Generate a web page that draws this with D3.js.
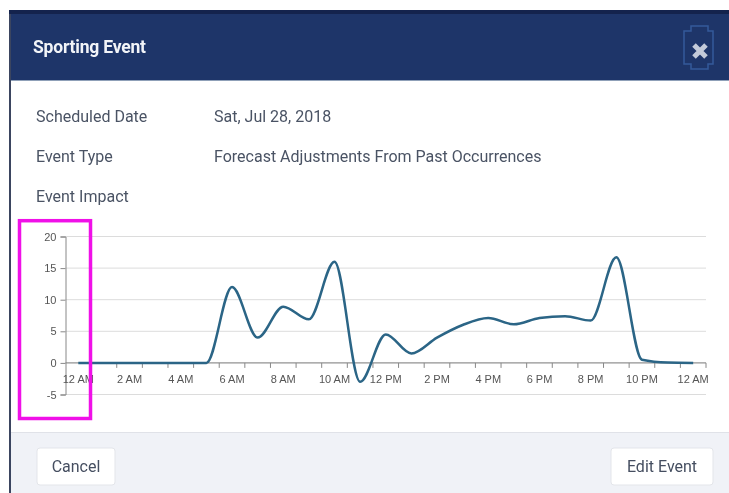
<!DOCTYPE html>
<html>
<head>
<meta charset="utf-8">
<script src="https://cdn.jsdelivr.net/npm/d3@7"></script>
<style>
  html, body { margin: 0; padding: 0; background: #fff; }
  #page { width: 729px; height: 493px; overflow: hidden; filter: blur(0.4px); }
</style>
</head>
<body>
<div id="page"></div>
<script>
//size
const width = 729, height = 493;
const margin = { top: 236.5, right: 23, bottom: 98.5, left: 65.5 };

//data
const hours = ["12 AM", "1 AM", "2 AM", "3 AM", "4 AM", "5 AM", "6 AM", "7 AM", "8 AM", "9 AM", "10 AM", "11 AM",
  "12 PM", "1 PM", "2 PM", "3 PM", "4 PM", "5 PM", "6 PM", "7 PM", "8 PM", "9 PM", "10 PM", "11 PM", "12 AM "];
const impact = [0, 0, 0, 0, 0, 0, 12, 4, 8.9, 6.9, 16, -3, 4.5, 1.5, 4, 6, 7.1, 6.1, 7.1, 7.4, 6.7, 16.7, 0.5, 0.05, 0];
const yTicks = [-5, 0, 5, 10, 15, 20];
const infoLabels = ["Scheduled Date", "Event Type", "Event Impact"];
const infoValues = ["Sat, Jul 28, 2018", "Forecast Adjustments From Past Occurrences", ""];

const uiFont = "Roboto, sans-serif";
const chartFont = "'Liberation Sans', Arial, sans-serif";

const svg = d3.select("#page").append("svg")
  .attr("width", width)
  .attr("height", height)
  .style("display", "block");

//modal shell
svg.append("rect").attr("x", 9).attr("y", 10).attr("width", 720).attr("height", 483).attr("fill", "#fff");
svg.append("rect").attr("x", 9).attr("y", 10).attr("width", 2).attr("height", 483).attr("fill", "#3b4560");
svg.append("rect").attr("x", 9).attr("y", 10).attr("width", 720).attr("height", 4).attr("fill", "#14234d");
svg.append("rect").attr("x", 11).attr("y", 14).attr("width", 718).attr("height", 66).attr("fill", "#1e3569");
svg.append("rect").attr("x", 11).attr("y", 80).attr("width", 718).attr("height", 1).attr("fill", "#8fa0b8");

svg.append("text").text("Sporting Event")
  .attr("x", 33).attr("y", 52.5)
  .attr("font-family", uiFont).attr("font-size", 17.5).attr("font-weight", 700)
  .attr("letter-spacing", "-0.2").attr("fill", "#f2f4f8");

//close icon
svg.append("path")
  .attr("d", "M691,26H708V31H713V64H708V69H691V64H684V31H691Z")
  .attr("fill", "none").attr("stroke", "#355a9a").attr("stroke-width", 1.5);
svg.append("path")
  .attr("d", "M694,45L706,57M706,45L694,57")
  .attr("fill", "none").attr("stroke", "#c3cad9").attr("stroke-width", 5);

//info rows
const rowY = d3.scalePoint().domain(infoLabels).range([122, 202]);
svg.selectAll(".info-label").data(infoLabels).enter().append("text")
  .attr("class", "info-label")
  .attr("x", 36).attr("y", (d) => rowY(d))
  .attr("font-family", uiFont).attr("font-size", 16).attr("fill", "#4a5364")
  .text((d) => d);
svg.selectAll(".info-value").data(infoValues).enter().append("text")
  .attr("class", "info-value")
  .attr("x", 214).attr("y", (d, i) => rowY(infoLabels[i]))
  .attr("font-family", uiFont).attr("font-size", 16).attr("fill", "#4a5364")
  .text((d) => d);

//scales
const x = d3.scaleBand().domain(hours).range([margin.left, width - margin.right]);
const y = d3.scaleLinear().domain([-5, 20]).range([height - margin.bottom, margin.top]);

//gridlines
svg.append("g").selectAll("line").data(yTicks).enter().append("line")
  .attr("x1", margin.left).attr("x2", width - margin.right)
  .attr("y1", (d) => y(d)).attr("y2", (d) => y(d))
  .attr("stroke", "#dcdcdc");

//y axis
const yAxis = svg.append("g")
  .attr("transform", "translate(" + margin.left + ",0)")
  .call(d3.axisLeft(y).tickValues(yTicks).tickSize(5).tickPadding(4).tickFormat((d) => String(d)));
yAxis.selectAll("text").attr("font-family", chartFont).attr("font-size", 11).attr("fill", "#555");
yAxis.selectAll("line, path").attr("stroke", "#888");

//x axis, ticks sit on the band edges so they get drawn by hand from the scale
const xAxis = svg.append("g").attr("transform", "translate(0," + y(0) + ")");
xAxis.append("line")
  .attr("x1", margin.left).attr("x2", width - margin.right)
  .attr("stroke", "#888");
xAxis.selectAll(".edge").data(hours).enter().append("line")
  .attr("class", "edge")
  .attr("x1", (d) => x(d) + x.bandwidth()).attr("x2", (d) => x(d) + x.bandwidth())
  .attr("y1", 0).attr("y2", 5)
  .attr("stroke", "#888");
xAxis.selectAll(".lab").data(hours.filter((d, i) => i % 2 === 0)).enter().append("text")
  .attr("class", "lab")
  .attr("x", (d) => x(d) + x.bandwidth() / 2)
  .attr("y", 20.5)
  .attr("text-anchor", "middle")
  .attr("font-family", chartFont).attr("font-size", 11).attr("fill", "#555")
  .text((d) => d.trim());

//impact line
const line = d3.line()
  .x((d, i) => x(hours[i]) + x.bandwidth() / 2)
  .y((d) => y(d))
  .curve(d3.curveMonotoneX);
svg.append("path")
  .datum(impact)
  .attr("d", line)
  .attr("fill", "none")
  .attr("stroke", "#2b6586")
  .attr("stroke-width", 2.5);

//highlight box
svg.append("rect")
  .attr("x", 19.5).attr("y", 220.7).attr("width", 71).attr("height", 197.8)
  .attr("fill", "none").attr("stroke", "#f010e8").attr("stroke-width", 3.5);

//footer
svg.append("rect").attr("x", 11).attr("y", 432).attr("width", 718).attr("height", 61).attr("fill", "#f0f2f7");
svg.append("rect").attr("x", 11).attr("y", 432).attr("width", 718).attr("height", 1).attr("fill", "#e0e2e8");

const buttons = [["Cancel", 37, 78], ["Edit Event", 611, 102]];
buttons.forEach((b) => {
  svg.append("rect").attr("x", b[1]).attr("y", 448).attr("width", b[2]).attr("height", 37).attr("rx", 3)
    .attr("fill", "#fff").attr("stroke", "#e3e5ea");
  svg.append("text").text(b[0])
    .attr("x", b[1] + b[2] / 2).attr("y", 472)
    .attr("text-anchor", "middle")
    .attr("font-family", uiFont).attr("font-size", 16).attr("fill", "#454e60");
});
</script>
</body>
</html>
